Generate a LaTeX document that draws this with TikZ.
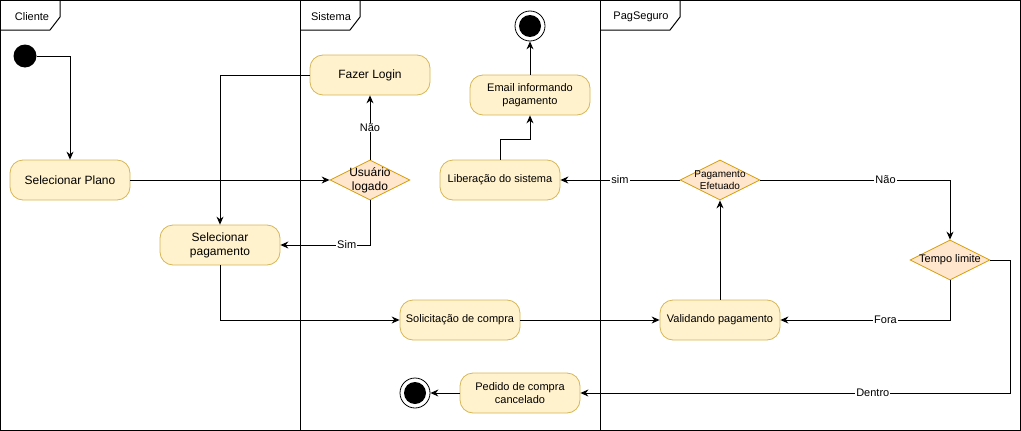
\documentclass[tikz,border=0pt]{standalone}
\usepackage{fontspec}
\setmainfont{Liberation Sans}
\usetikzlibrary{shapes.geometric,arrows.meta}
\definecolor{actfill}{HTML}{FFF2CC}
\definecolor{actline}{HTML}{D6B656}
\definecolor{decfill}{HTML}{FFE6CC}
\definecolor{decline}{HTML}{D79B00}

\tikzstyle{action} = [rectangle, rounded corners=13pt, draw=actline, fill=actfill, line width=0.8pt, minimum width=120pt, minimum height=40pt, inner sep=0pt, align=center, font=\fontsize{11}{13}\selectfont]
\tikzstyle{bigaction} = [action, font=\fontsize{12}{14}\selectfont]
\tikzstyle{decision} = [diamond, aspect=2, draw=decline, fill=decfill, line width=0.8pt, minimum width=80pt, minimum height=40pt, inner sep=0pt]
\tikzstyle{initial} = [circle, fill=black, minimum size=23pt, inner sep=0pt]
\tikzstyle{final} = [circle, draw, line width=0.8pt, minimum size=30pt, inner sep=0pt, path picture={\fill (path picture bounding box.center) circle (11pt);}]
\tikzstyle{flow} = [-{Stealth[length=8pt,width=7pt]}, line width=1pt]
\tikzstyle{guard} = [fill=white, inner sep=1pt, font=\fontsize{11}{13}\selectfont]
\tikzstyle{lanename} = [font=\fontsize{11}{13}\selectfont]

\begin{document}
\begin{tikzpicture}[x=1pt, y=-1pt]
      \useasboundingbox (0,0) rectangle (1021,431);
      \draw[line width=1pt] (0.5,0.5) rectangle (1020.5,430.5);
      \draw[line width=1pt] (300,0) -- (300,431);
      \draw[line width=1pt] (600,0) -- (600,431);
      \draw[line width=1pt] (0,30) -- (50,30) -- (60,17) -- (60,0);
      \draw[line width=1pt] (300,30) -- (350,30) -- (360,17) -- (360,0);
      \draw[line width=1pt] (600,30) -- (670,30) -- (680,17) -- (680,0);
      \node[lanename] (cliente) at (32,17) {Cliente};
      \node[lanename] (sistema) at (331,17) {Sistema};
      \node[lanename] (pagseguro) at (641,17) {PagSeguro};

      \node[initial] (inicio) at (25,56) {};
      \node[bigaction] (plano) at (70,180) {Selecionar Plano};
      \node[decision, label={[font=\fontsize{12}{14}\selectfont, align=center]center:Usuário\\logado}] (logado) at (370,180) {};
      \node[bigaction] (login) at (370,75) {Fazer Login};
      \node[bigaction] (selpag) at (220,245) {Selecionar\\pagamento};
      \node[action] (solic) at (460,320) {Solicitação de compra};
      \node[action] (valid) at (720,320) {Validando pagamento};
      \node[decision, label={[font=\fontsize{10}{12}\selectfont, align=center]center:Pagamento\\Efetuado}] (efetuado) at (720,180) {};
      \node[action] (lib) at (500,180) {Liberação do sistema};
      \node[action] (email) at (530,95) {Email informando\\pagamento};
      \node[final] (fim) at (530,26) {};
      \node[decision, label={[font=\fontsize{11}{13}\selectfont]center:Tempo limite}] (tempo) at (950,260) {};
      \node[action] (pedido) at (520,393) {Pedido de compra\\cancelado};
      \node[final] (cancelado) at (415,393) {};

      \draw[flow] (inicio.east) -| (plano.north);
      \draw[flow] (plano.east) -- (logado.west);
      \draw[flow] (logado.north) -- node[guard] {Não} (login.south);
      \draw[flow] (logado.south) |- node[guard, pos=0.63] {Sim} (selpag.east);
      \draw[flow] (login.west) -| (selpag.north);
      \draw[flow] (selpag.south) |- (solic.west);
      \draw[flow] (solic.east) -- (valid.west);
      \draw[flow] (valid.north) -- (efetuado.south);
      \draw[flow] (efetuado.west) -- node[guard] {sim} (lib.east);
      \draw[flow] (lib.north) -- ++(0,-20) -| (email.south);
      \draw[flow] (email.north) -- (fim.south);
      \draw[flow] (efetuado.east) -| node[guard, pos=0.33] {Não} (tempo.north);
      \draw[flow] (tempo.south) |- node[guard, pos=0.69] {Fora} (valid.east);
      \draw[flow] (tempo.east) -- ++(20,0) |- node[guard, pos=0.66] {Dentro} (pedido.east);
      \draw[flow] (pedido.west) -- (cancelado.east);
    \end{tikzpicture}
\end{document}
